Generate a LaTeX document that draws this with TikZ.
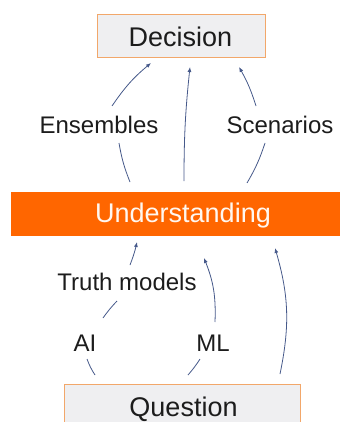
\documentclass[tikz,border=0pt]{standalone}
\usepackage{fontspec}
\setmainfont{Liberation Sans}
\usetikzlibrary{arrows.meta}
\definecolor{bandorange}{HTML}{FF6600}
\definecolor{boxedge}{HTML}{F2A76A}
\definecolor{boxfill}{HTML}{EFEFF1}
\definecolor{linkblue}{HTML}{46598A}
\definecolor{ink}{HTML}{1C1C1C}
\begin{document}
\begin{tikzpicture}[x=1pt,y=-1pt,
  big/.style={font=\fontsize{27}{30}\selectfont, text=ink, anchor=base, inner sep=0pt},
  tag/.style={font=\fontsize{24}{27}\selectfont, text=ink, anchor=base, inner sep=0pt},
  link/.style={draw=linkblue, line width=0.8pt},
  linkarrow/.style={link, -{Latex[length=5pt,width=4pt]}}]
\useasboundingbox (0,0) rectangle (340,422);

% boxes and band
\node[draw=boxedge, fill=boxfill, line width=0.8pt, minimum width=168pt, minimum height=43pt, inner sep=0pt]
  (decbox) at (181,35.5) {};
\node[big] (dec) at (180.5,46.5) {Decision};
\fill[bandorange] (11,192) rectangle (340,236);
\node[big, text=white!94!orange] (und) at (183,222.5) {Understanding};
\fill[boxfill] (64,384) rectangle (300,422);
\draw[boxedge, line width=0.8pt] (64,422) -- (64,384) -- (300,384) -- (300,422);
\node[big] (que) at (183.5,416.5) {Question};

% labels along the links
\node[tag] (ens) at (99,133.3) {Ensembles};
\node[tag] (scn) at (280,133.3) {Scenarios};
\node[tag] (tru) at (127,290) {Truth models};
\node[tag] (ai) at (85,351.7) {AI};
\node[tag] (ml) at (213,351.7) {ML};

% link end points
\coordinate (e0) at (130,182); \coordinate (e1) at (119,143);
\coordinate (e2) at (112,106); \coordinate (e3) at (151,63);
\coordinate (m0) at (184,181); \coordinate (m1) at (190,67);
\coordinate (s0) at (247,183); \coordinate (s1) at (265,143);
\coordinate (s2) at (256,106); \coordinate (s3) at (239,67);
\coordinate (a0) at (95,375);  \coordinate (a1) at (87,359);
\coordinate (a2) at (103,318); \coordinate (a3) at (117,301);
\coordinate (a4) at (130,265); \coordinate (a5) at (137,242);
\coordinate (l0) at (188,375); \coordinate (l1) at (200,359);
\coordinate (l2) at (215,322); \coordinate (l3) at (204,258);
\coordinate (r0) at (280,374); \coordinate (r1) at (275,248);

% Understanding -> Decision
\draw[link] (e0) to[bend left=6] (e1);
\draw[linkarrow] (e2) to[bend left=8] (e3);
\draw[linkarrow] (m0) to[bend left=3] (m1);
\draw[link] (s0) to[bend right=6] (s1);
\draw[linkarrow] (s2) to[bend right=6] (s3);

% Question -> Understanding
\draw[link] (a0) to[bend left=6] (a1);
\draw[link] (a2) to[bend left=4] (a3);
\draw[linkarrow] (a4) to[bend right=4] (a5);
\draw[link] (l0) to[bend right=4] (l1);
\draw[linkarrow] (l2) to[bend right=12] (l3);
\draw[linkarrow] (r0) to[bend right=14] (r1);
\end{tikzpicture}
\end{document}
